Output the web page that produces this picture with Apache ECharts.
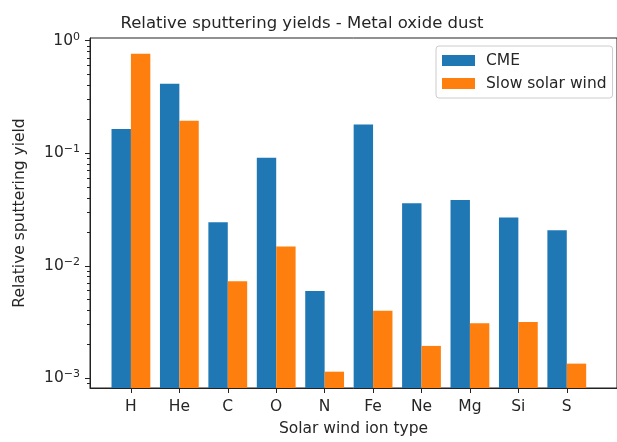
<!DOCTYPE html>
<html><head><meta charset="utf-8">
<script src="https://cdn.jsdelivr.net/npm/echarts@6/dist/echarts.min.js"></script>
<style>html,body{margin:0;padding:0;background:#fff}#c{width:617px;height:442px}</style>
</head><body><div id="c"></div>
<script>
const categories = ['H','He','C','O','N','Fe','Ne','Mg','Si','S'];
const cmeValues = [0.164,0.415,0.0244,0.0911,0.00597,0.180,0.0360,0.0385,0.0268,0.0207];
const slowValues = [0.766,0.194,0.00729,0.0148,0.001145,0.00399,0.00194,0.00308,0.00317,0.00135];
const majorTicks = [0.001,0.01,0.1,1];
const minorTicks = [0.0009,
  0.002,0.003,0.004,0.005,0.006,0.007,0.008,0.009,
  0.02,0.03,0.04,0.05,0.06,0.07,0.08,0.09,
  0.2,0.3,0.4,0.5,0.6,0.7,0.8,0.9];
const xTicks = [0,1,2,3,4,5,6,7,8,9];
const yMin = 0.00082, yMax = 1.057;

const FONT = 'DejaVu Sans';
const TXT = '#262626';
const FS = 15.5;
const chart = echarts.init(document.getElementById('c'), null, {renderer:'canvas'});

function supLabel(v){
  const e = Math.round(Math.log10(v));
  const s = (e < 0 ? '\u2212' + (-e) : String(e));
  return '{b|10}{s|' + s + '}';
}

chart.setOption({
  animation: false,
  backgroundColor: '#fff',
  title: {
    text: 'Relative sputtering yields - Metal oxide dust',
    left: 297, top: 10, textAlign: 'center',
    textStyle: {fontFamily: FONT, fontSize: 16.5, fontWeight: 'normal', color: TXT}
  },
  legend: {
    data: ['CME','Slow solar wind'],
    orient: 'vertical',
    left: 436, top: 46,
    padding: [6, 6, 6, 6],
    itemWidth: 33, itemHeight: 11, itemGap: 6,
    borderColor: '#cccccc', borderWidth: 1, borderRadius: 3,
    backgroundColor: 'rgba(255,255,255,0.8)',
    textStyle: {fontFamily: FONT, fontSize: FS, color: TXT, lineHeight: 17, padding: [0,0,0,6]},
    icon: 'rect'
  },
  grid: {
    left: 90, right: -1, top: 38, bottom: 54,
    show: true, borderColor: '#222', borderWidth: 1, backgroundColor: 'transparent'
  },
  xAxis: {
    type: 'value', min: -0.845, max: 10.037,
    name: 'Solar wind ion type', nameLocation: 'middle', nameGap: 33,
    nameTextStyle: {fontFamily: FONT, fontSize: FS, color: TXT},
    axisLine: {show: true, onZero: false, lineStyle: {color: '#222', width: 1}},
    axisTick: {show: true, length: 5, customValues: xTicks, lineStyle: {color: '#222'}},
    axisLabel: {customValues: xTicks, margin: 11, fontFamily: FONT, fontSize: FS, color: TXT,
      formatter: v => categories[Math.round(v)] || ''},
    splitLine: {show: false}
  },
  yAxis: [{
    type: 'log', min: yMin, max: yMax, logBase: 10, startValue: yMin,
    name: 'Relative sputtering yield', nameLocation: 'middle', nameGap: 62,
    nameTextStyle: {fontFamily: FONT, fontSize: FS, color: TXT},
    axisLine: {show: true, onZero: false, lineStyle: {color: '#222', width: 1}},
    axisTick: {show: true, length: 5, customValues: majorTicks, lineStyle: {color: '#222'}},
    axisLabel: {customValues: majorTicks, margin: 10, formatter: supLabel,
      rich: {
        b: {fontFamily: FONT, fontSize: FS, color: TXT},
        s: {fontFamily: FONT, fontSize: 11, color: TXT, padding: [0,0,8,0]}
      }},
    splitLine: {show: false}
  },{
    type: 'log', min: yMin, max: yMax, logBase: 10, position: 'left',
    axisLine: {show: false, onZero: false},
    axisTick: {show: true, length: 3, customValues: minorTicks, lineStyle: {color: '#222'}},
    axisLabel: {show: false},
    splitLine: {show: false}
  }],
  series: [{
    name: 'CME', type: 'bar', barWidth: 19.4, barGap: '0%',
    itemStyle: {color: '#1f77b4'},
    data: cmeValues.map((v,i) => [i, v])
  },{
    name: 'Slow solar wind', type: 'bar', barWidth: 19.4, barGap: '0%',
    itemStyle: {color: '#ff7f0e'},
    data: slowValues.map((v,i) => [i, v])
  }]
});
</script></body></html>
